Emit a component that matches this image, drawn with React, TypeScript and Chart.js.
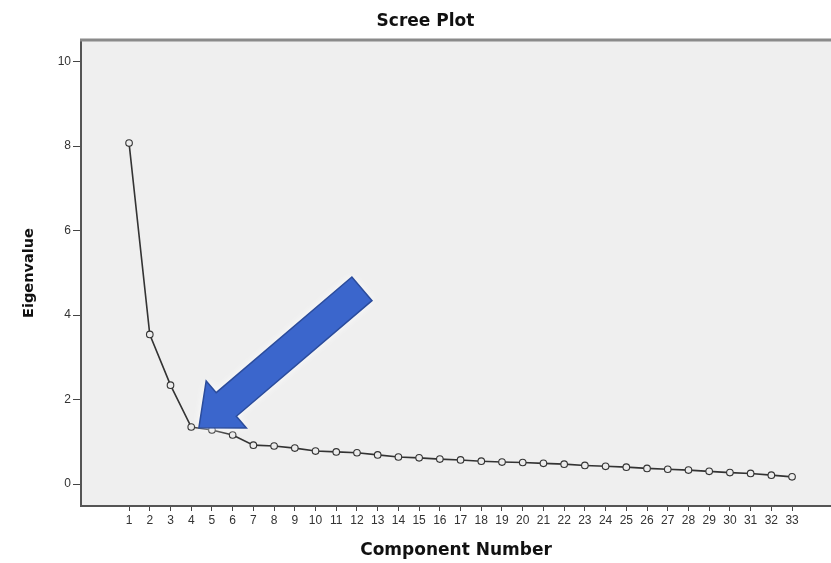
import React, { useEffect, useRef } from 'react';
import { Chart, registerables } from 'chart.js';

Chart.register(...registerables);

const COMPONENTS = [1, 2, 3, 4, 5, 6, 7, 8, 9, 10, 11, 12, 13, 14, 15, 16, 17, 18, 19, 20, 21, 22, 23, 24, 25, 26, 27, 28, 29, 30, 31, 32, 33];
const EIGENVALUES = [8.07, 3.54, 2.34, 1.35, 1.28, 1.16, 0.92, 0.9, 0.85, 0.78, 0.76, 0.74, 0.69, 0.64, 0.62, 0.59, 0.57, 0.54, 0.52, 0.51, 0.49, 0.47, 0.44, 0.42, 0.4, 0.37, 0.35, 0.33, 0.3, 0.27, 0.25, 0.21, 0.17];
const Y_TICKS = [0, 2, 4, 6, 8, 10];
const TITLE = 'Scree Plot';
const X_TITLE = 'Component Number';
const Y_TITLE = 'Eigenvalue';
const ARROW_TAIL = { x: 12.24, y: 4.62 };
const ARROW_TIP = { x: 4.37, y: 1.33 };

const FONT = '"Liberation Sans", Arial, sans-serif';
const TITLE_FONT = '"DejaVu Sans", Verdana, sans-serif';

const decorPlugin = {
  id: 'decor',
  beforeDraw(chart: any) {
    const { ctx, chartArea } = chart;
    ctx.save();
    ctx.fillStyle = '#ffffff';
    ctx.fillRect(0, 0, chart.width, chart.height);
    ctx.fillStyle = '#efefef';
    ctx.fillRect(chartArea.left, chartArea.top, chartArea.right - chartArea.left, chartArea.bottom - chartArea.top);
    ctx.restore();
  },
  afterDraw(chart: any) {
    const { ctx, chartArea } = chart;
    ctx.save();
    ctx.strokeStyle = '#8a8a8a';
    ctx.lineWidth = 3;
    ctx.beginPath();
    ctx.moveTo(chartArea.left - 1, chartArea.top);
    ctx.lineTo(chartArea.right, chartArea.top);
    ctx.stroke();
    ctx.fillStyle = '#111';
    ctx.font = `bold 17px ${TITLE_FONT}`;
    ctx.textAlign = 'center';
    ctx.textBaseline = 'middle';
    ctx.fillText(TITLE, chart.width / 2 + 10, 22);
    ctx.restore();
  },
  afterDatasetsDraw(chart: any) {
    const { ctx } = chart;
    const xs = chart.scales.x;
    const ys = chart.scales.y;
    const tx = xs.getPixelForValue(ARROW_TIP.x);
    const ty = ys.getPixelForValue(ARROW_TIP.y);
    const sx = xs.getPixelForValue(ARROW_TAIL.x);
    const sy = ys.getPixelForValue(ARROW_TAIL.y);
    const dx = tx - sx;
    const dy = ty - sy;
    const len = Math.hypot(dx, dy);
    const ux = dx / len;
    const uy = dy / len;
    const px = -uy;
    const py = ux;
    const shaft = 15.5;
    const head = 31;
    const headLen = 36;
    const bx = tx - ux * headLen;
    const by = ty - uy * headLen;
    ctx.save();
    ctx.beginPath();
    ctx.moveTo(sx + px * shaft, sy + py * shaft);
    ctx.lineTo(bx + px * shaft, by + py * shaft);
    ctx.lineTo(bx + px * head, by + py * head);
    ctx.lineTo(tx, ty);
    ctx.lineTo(bx - px * head, by - py * head);
    ctx.lineTo(bx - px * shaft, by - py * shaft);
    ctx.lineTo(sx - px * shaft, sy - py * shaft);
    ctx.closePath();
    ctx.shadowColor = 'rgba(255,255,255,0.95)';
    ctx.shadowBlur = 8;
    ctx.fillStyle = '#3b66cc';
    ctx.fill();
    ctx.shadowBlur = 0;
    ctx.strokeStyle = '#2b4c9c';
    ctx.lineWidth = 1.5;
    ctx.stroke();
    ctx.restore();
  },
};

export default function App() {
  const ref = useRef<HTMLCanvasElement | null>(null);

  useEffect(() => {
    if (!ref.current) return;
    const chart = new Chart(ref.current, {
      type: 'line',
      data: {
        datasets: [
          {
            data: COMPONENTS.map((c, i) => ({ x: c, y: EIGENVALUES[i] })),
            borderColor: '#333333',
            borderWidth: 1.6,
            pointRadius: 3.3,
            pointBackgroundColor: '#ececec',
            pointBorderColor: '#333333',
            pointBorderWidth: 1.1,
            tension: 0,
          },
        ],
      },
      options: {
        responsive: false,
        animation: false,
        layout: { autoPadding: false, padding: { top: 40, left: 0, right: 0, bottom: 0 } },
        plugins: {
          legend: { display: false },
          tooltip: { enabled: false },
          title: { display: false },
        },
        scales: {
          x: {
            type: 'linear',
            min: -1.32,
            max: 34.88,
            afterFit: (s: any) => {
              s.height = 57;
              s.paddingLeft = 0;
              s.paddingRight = 0;
            },
            afterBuildTicks: (s: any) => {
              s.ticks = COMPONENTS.map((v) => ({ value: v }));
            },
            grid: {
              display: true,
              drawOnChartArea: false,
              drawTicks: true,
              tickLength: 5,
              color: '#444',
              lineWidth: 1,
            },
            border: { display: true, color: '#555', width: 2 },
            ticks: {
              autoSkip: false,
              maxRotation: 0,
              padding: 2,
              color: '#333',
              font: { family: FONT, size: 12 },
              callback: (v: any) => String(v),
            },
            title: {
              display: true,
              text: X_TITLE,
              color: '#111',
              font: { family: TITLE_FONT, size: 17, weight: 'bold' },
              padding: { top: 0, bottom: 2 },
            },
          },
          y: {
            type: 'linear',
            min: -0.52,
            max: 10.51,
            afterFit: (s: any) => {
              s.width = 81;
              s.paddingTop = 0;
              s.paddingBottom = 0;
            },
            afterBuildTicks: (s: any) => {
              s.ticks = Y_TICKS.map((v) => ({ value: v }));
            },
            grid: {
              display: true,
              drawOnChartArea: false,
              drawTicks: true,
              tickLength: 8,
              color: '#444',
              lineWidth: 1,
            },
            border: { display: true, color: '#555', width: 2 },
            ticks: {
              padding: 2,
              color: '#333',
              font: { family: FONT, size: 12 },
              callback: (v: any) => String(v),
            },
            title: {
              display: true,
              text: Y_TITLE,
              color: '#111',
              font: { family: TITLE_FONT, size: 14.5, weight: 'bold' },
              padding: { top: 21, bottom: 0 },
            },
          },
        },
      },
      plugins: [decorPlugin],
    } as any);
    return () => chart.destroy();
  }, []);

  return (
    <div style={{ position: 'absolute', left: 0, top: 0, width: 831, height: 563, background: '#fff' }}>
      <canvas ref={ref} width={831} height={563} style={{ display: 'block' }} />
    </div>
  );
}
